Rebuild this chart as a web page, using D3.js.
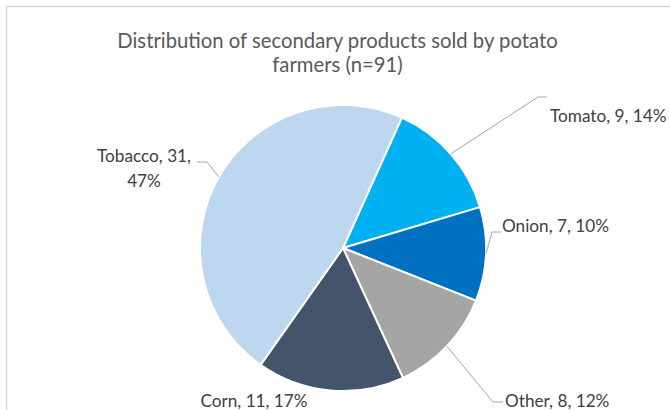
<!DOCTYPE html>
<html>
<head>
<meta charset="utf-8">
<script src="https://cdn.jsdelivr.net/npm/d3@7"></script>
<style>
  html, body { margin: 0; padding: 0; background: #ffffff; }
  svg { display: block; }
  text { font-family: "Lato", "Open Sans", sans-serif; }
</style>
</head>
<body>
<svg id="chart" width="670" height="410"></svg>
<script>
// Secondary products sold by potato farmers
const categories = ["Tomato", "Onion", "Other", "Corn", "Tobacco"];
const counts = [9, 7, 8, 11, 31];
const percentLabels = ["14%", "10%", "12%", "17%", "47%"];
const sliceColors = ["#00B0F0", "#0070C0", "#A5A5A5", "#44546A", "#BDD7EE"];
const titleLines = ["Distribution of secondary products sold by potato", "farmers (n=91)"];

const width = 670, height = 410;
const cx = 343, cy = 248, radius = 143;
const firstSliceAngle = 24.3 * Math.PI / 180;

const svg = d3.select("#chart");

// chart frame
svg.append("rect")
  .attr("x", 6.5).attr("y", 6.5)
  .attr("width", 700).attr("height", 450)
  .attr("fill", "#ffffff")
  .attr("stroke", "#D9D9D9")
  .attr("stroke-width", 1.5);

// title
const title = svg.append("text")
  .attr("text-anchor", "middle")
  .attr("fill", "#595959")
  .attr("font-size", 20.3);
titleLines.forEach((line, i) => {
  title.append("tspan")
    .attr("x", 337.5)
    .attr("y", 48 + i * 24)
    .text(line);
});

const data = categories.map((c, i) => ({ name: c, value: counts[i], pct: percentLabels[i], color: sliceColors[i] }));

const pie = d3.pie()
  .value(d => d.value)
  .sort(null)
  .startAngle(firstSliceAngle)
  .endAngle(firstSliceAngle + 2 * Math.PI);

const arc = d3.arc().innerRadius(0).outerRadius(radius);
const arcs = pie(data);

const g = svg.append("g").attr("transform", `translate(${cx},${cy})`);

g.selectAll("path.slice")
  .data(arcs)
  .join("path")
  .attr("class", "slice")
  .attr("d", arc)
  .attr("fill", d => d.data.color)
  .attr("stroke", "#ffffff")
  .attr("stroke-width", 2)
  .attr("stroke-linejoin", "round");

// label placement: elbow point and text anchor, relative to chart origin
const labelLayout = {
  Tomato:  { elbow: [538, 97],  end: [547, 97],  tx: 550, ty: 122, anchor: "start", lines: 1 },
  Onion:   { elbow: [492, 232], end: [501, 232], tx: 502, ty: 232, anchor: "start", lines: 1 },
  Other:   { elbow: [493, 402], end: [503, 402], tx: 505, ty: 407, anchor: "start", lines: 1 },
  Corn:    { elbow: null,       end: null,       tx: 254, ty: 407, anchor: "middle", lines: 1 },
  Tobacco: { elbow: [207, 162], end: [197, 162], tx: 144, ty: 162, anchor: "middle", lines: 2 }
};

const edgePoint = d => {
  const a = (d.startAngle + d.endAngle) / 2;
  return [cx + radius * Math.sin(a), cy - radius * Math.cos(a)];
};

const leaders = svg.append("g");
arcs.forEach(d => {
  const L = labelLayout[d.data.name];
  if (!L.elbow) return;
  const p = edgePoint(d);
  leaders.append("path")
    .attr("d", d3.line()([p, L.elbow, L.end]))
    .attr("fill", "none")
    .attr("stroke", "#A6A6A6")
    .attr("stroke-width", 1);
});

const labels = svg.append("g")
  .attr("fill", "#404040")
  .attr("font-size", 17.2);

arcs.forEach(d => {
  const L = labelLayout[d.data.name];
  const t = labels.append("text").attr("text-anchor", L.anchor);
  if (L.lines === 2) {
    t.append("tspan").attr("x", L.tx).attr("y", L.ty)
      .text(`${d.data.name}, ${d.data.value},`);
    t.append("tspan").attr("x", L.tx).attr("y", L.ty + 24.5)
      .text(d.data.pct);
  } else {
    t.attr("x", L.tx).attr("y", L.ty)
      .text(`${d.data.name}, ${d.data.value}, ${d.data.pct}`);
  }
});
</script>
</body>
</html>
